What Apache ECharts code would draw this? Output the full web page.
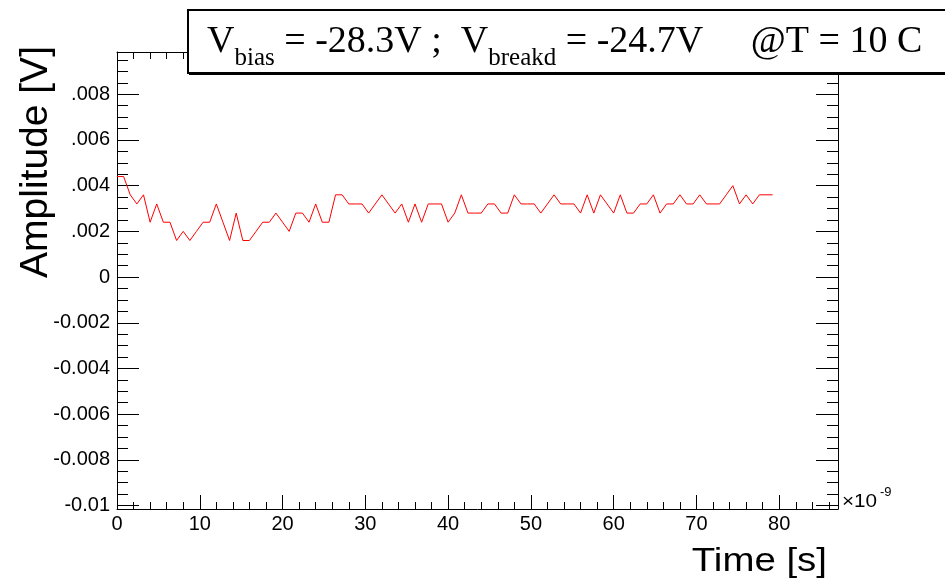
<!DOCTYPE html>
<html><head><meta charset="utf-8">
<script src="https://cdn.jsdelivr.net/npm/echarts@6/dist/echarts.min.js"></script>
<style>html,body{margin:0;padding:0;background:#fff;} #c{width:945px;height:587px;}</style>
</head><body><div id="c"></div>
<script>
// ---- data ----
const times = [0,0.8,1.6,2.4,3.2,4,4.8,5.6,6.4,7.2,8,8.8,9.6,10.4,11.2,12,12.8,13.6,14.4,15.2,
  16,16.8,17.6,18.4,19.2,20,20.8,21.6,22.4,23.2,24,24.8,25.6,26.4,27.2,28,28.8,29.6,30.4,31.2,
  32,32.8,33.6,34.4,35.2,36,36.8,37.6,38.4,39.2,40,40.8,41.6,42.4,43.2,44,44.8,45.6,46.4,47.2,
  48,48.8,49.6,50.4,51.2,52,52.8,53.6,54.4,55.2,56,56.8,57.6,58.4,59.2,60,60.8,61.6,62.4,63.2,
  64,64.8,65.6,66.4,67.2,68,68.8,69.6,70.4,71.2,72,72.8,73.6,74.4,75.2,76,76.8,77.6,78.4,79.2];
const amplitudes = [
  0.0044,0.0044,0.0036,0.0032,0.0036,0.0024,0.0032,0.0024,0.0024,0.0016,
  0.002,0.0016,0.002,0.0024,0.0024,0.0032,0.0024,0.0016,0.0028,0.0016,
  0.0016,0.002,0.0024,0.0024,0.0028,0.0024,0.002,0.0028,0.0028,0.0024,
  0.0032,0.0024,0.0024,0.0036,0.0036,0.0032,0.0032,0.0032,0.0028,0.0032,
  0.0036,0.0032,0.0028,0.0032,0.0024,0.0032,0.0024,0.0032,0.0032,0.0032,
  0.0024,0.0028,0.0036,0.0028,0.0028,0.0028,0.0032,0.0032,0.0028,0.0028,
  0.0036,0.0032,0.0032,0.0032,0.0028,0.0032,0.0036,0.0032,0.0032,0.0032,
  0.0028,0.0036,0.0028,0.0036,0.0032,0.0028,0.0036,0.0028,0.0028,0.0032,
  0.0032,0.0036,0.0028,0.0032,0.0032,0.0036,0.0032,0.0032,0.0036,0.0032,
  0.0032,0.0032,0.0036,0.004,0.0032,0.0036,0.0032,0.0036,0.0036,0.0036];
const xTickValues = [0,10,20,30,40,50,60,70,80];
const xTickLabels = ['0','10','20','30','40','50','60','70','80'];
const yTickValues = [-0.01,-0.008,-0.006,-0.004,-0.002,0,0.002,0.004,0.006,0.008];
const yTickLabels = ['-0.01','-0.008','-0.006','-0.004','-0.002','0','.002','.004','.006','.008'];
const xRange = [0, 87.1];
const yRange = [-0.01015, 0.00985];
// title pieces: [text, isSubscript]
const titleParts = [['V', false], ['bias', true], [' = -28.3V ;  V', false], ['breakd', true], [' = -24.7V     @T = 10 C', false]];
const xTitle = 'Time [s]';
const yTitle = 'Amplitude [V]';
const xExponent = ['×10', '-9'];

// ---- chart ----
const xMinor = [];
for (let v = 2; v < xRange[1]; v += 2) if (v % 10 !== 0) xMinor.push(v);
const yMinor = [];
for (let k = -20; k <= 19; k++) { if (k % 4 !== 0) { const v = +(k * 0.0005).toFixed(4); if (v > yRange[0] && v < yRange[1]) yMinor.push(v); } }

const black = '#000';
const sans = '"Liberation Sans", Arial, Helvetica, sans-serif';
const serif = '"Liberation Serif", "Times New Roman", serif';

function xAx(pos, ticks, len, showLine, labels) {
  return {
    type: 'value', position: pos, min: xRange[0], max: xRange[1],
    axisLine: { show: showLine, onZero: false, lineStyle: { color: black, width: 1 } },
    axisTick: { show: true, inside: true, length: len, customValues: ticks, lineStyle: { color: black, width: 1 } },
    axisLabel: labels ? { show: true, customValues: xTickValues, margin: 5, color: black, fontSize: 20, fontFamily: sans,
      formatter: v => { const i = xTickValues.findIndex(t => Math.abs(t - v) < 1e-9); return i >= 0 ? xTickLabels[i] : ''; } } : { show: false },
    splitLine: { show: false }
  };
}
function yAx(pos, ticks, len, showLine, labels) {
  return {
    type: 'value', position: pos, min: yRange[0], max: yRange[1],
    axisLine: { show: showLine, onZero: false, lineStyle: { color: black, width: 1 } },
    axisTick: { show: true, inside: true, length: len, customValues: ticks, lineStyle: { color: black, width: 1 } },
    axisLabel: labels ? { show: true, customValues: yTickValues, margin: 7, color: black, fontSize: 20, fontFamily: sans,
      formatter: v => { const i = yTickValues.findIndex(t => Math.abs(t - v) < 1e-9); return i >= 0 ? yTickLabels[i] : ''; } } : { show: false },
    splitLine: { show: false }
  };
}

// title pieces laid out with measured widths
const mainSize = 38, subSize = 25;
const mainBase = 55, subBase = 67;
const mctx = document.createElement('canvas').getContext('2d');
let cx = 207;
const titleEls = titleParts.map(([txt, sub]) => {
  const fs = sub ? subSize : mainSize;
  mctx.font = fs + 'px ' + serif;
  const el = { type: 'text', z: 12, x: cx, y: (sub ? subBase : mainBase) - 0.33 * fs,
    style: { text: txt, fontFamily: serif, fontSize: fs, fill: black, align: 'left', verticalAlign: 'middle' } };
  cx += mctx.measureText(txt).width;
  return el;
});

const chart = echarts.init(document.getElementById('c'), null, { renderer: 'canvas' });
chart.setOption({
  animation: false,
  backgroundColor: '#fff',
  grid: { left: 117, right: 107, top: 52, bottom: 78 },
  xAxis: [
    xAx('bottom', xTickValues, 14, true, true),
    xAx('bottom', xMinor, 7, false, false),
    xAx('top', xTickValues, 14, true, false),
    xAx('top', xMinor, 7, false, false)
  ],
  yAxis: [
    yAx('left', yTickValues, 22, true, true),
    yAx('left', yMinor, 11, false, false),
    yAx('right', yTickValues, 22, true, false),
    yAx('right', yMinor, 11, false, false)
  ],
  series: [{
    type: 'line', xAxisIndex: 0, yAxisIndex: 0,
    data: times.map((t, i) => [t, amplitudes[i]]),
    showSymbol: false, symbol: 'none',
    lineStyle: { color: '#ff0000', width: 1 },
    z: 3
  }],
  graphic: [
    { type: 'rect', z: 10, shape: { x: 189, y: 12, width: 800, height: 63 }, style: { fill: black } },
    { type: 'rect', z: 11, shape: { x: 188, y: 10, width: 800, height: 63 }, style: { fill: '#fff', stroke: black, lineWidth: 2 } },
    ...titleEls,
    { type: 'text', z: 12, x: 36, y: 162, rotation: Math.PI / 2,
      style: { text: yTitle, fontFamily: sans, fontSize: 39, fill: black, align: 'center', verticalAlign: 'middle' } },
    { type: 'text', z: 12, x: 827, y: 562, scaleX: 1.13,
      style: { text: xTitle, fontFamily: sans, fontSize: 34, fill: black, align: 'right', verticalAlign: 'middle' } },
    { type: 'text', z: 12, x: 842, y: 502, scaleX: 1.15,
      style: { text: xExponent[0], fontFamily: sans, fontSize: 18, fill: black, align: 'left', verticalAlign: 'middle' } },
    { type: 'text', z: 12, x: 880, y: 492,
      style: { text: xExponent[1], fontFamily: sans, fontSize: 13, fill: black, align: 'left', verticalAlign: 'middle' } }
  ]
});
</script>
</body></html>
